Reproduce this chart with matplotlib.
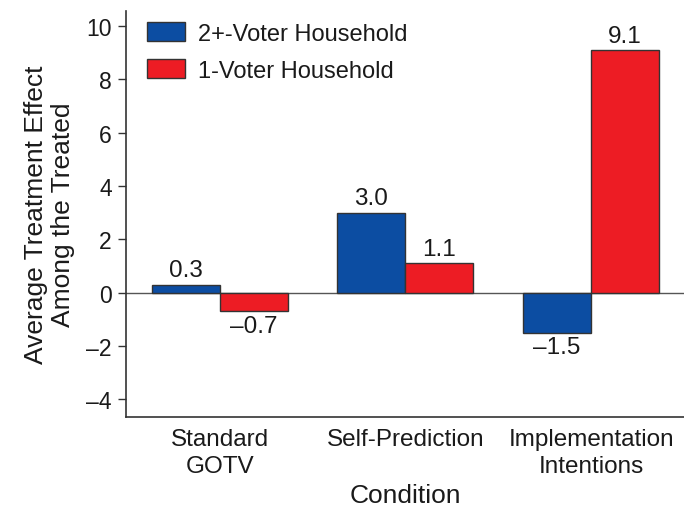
import matplotlib
matplotlib.use("Agg")
import matplotlib.pyplot as plt
import numpy as np

plt.rcParams['font.family'] = ['Liberation Sans', 'DejaVu Sans']

conditions = ["Standard\nGOTV", "Self-Prediction", "Implementation\nIntentions"]
series_names = ["2+-Voter Household", "1-Voter Household"]
multi_voter = [0.3, 3.0, -1.5]
single_voter = [-0.7, 1.1, 9.1]
colors = ["#0c4da2", "#ed1c24"]
yticks = [-4, -2, 0, 2, 4, 6, 8, 10]

fig = plt.figure(figsize=(6.84, 5.10), dpi=100)
ax = fig.add_axes([0.184, 0.180, 0.816, 0.796])

x = np.arange(len(conditions))
w = 0.366
ax.axhline(0, color="#555555", lw=1.0, zorder=1)
for i, (vals, c, name) in enumerate(zip([multi_voter, single_voter], colors, series_names)):
    ax.bar(x + (i - 0.5) * w, vals, w, color=c, edgecolor="#333333", lw=1.0, label=name, zorder=2)
    for xi, v in zip(x + (i - 0.5) * w, vals):
        txt = f"{v:.1f}".replace("-", "\u2013")
        if v >= 0:
            ax.text(xi, v + 0.12, txt, ha="center", va="bottom", fontsize=17.5, color="#1a1a1a")
        else:
            ax.text(xi, v - 0.12, txt, ha="center", va="top", fontsize=17.5, color="#1a1a1a")

ax.set_xlim(-0.505, 2.5)
ax.set_ylim(-4.67, 10.55)
ax.set_yticks(yticks)
ax.set_yticklabels([str(t).replace("-", "\u2013") for t in yticks], fontsize=16.5, color="#1a1a1a")
ax.set_xticks(x)
ax.set_xticklabels(conditions, fontsize=17.5, color="#1a1a1a", linespacing=1.3)
ax.tick_params(axis="x", length=0, pad=8)
ax.tick_params(axis="y", length=6, width=1.0, color="#333333", pad=4)
for s in ["top", "right"]:
    ax.spines[s].set_visible(False)
for s in ["left", "bottom"]:
    ax.spines[s].set_color("#333333")
    ax.spines[s].set_linewidth(1.2)

ax.set_xlabel("Condition", fontsize=19, color="#1a1a1a", labelpad=4)
ax.set_ylabel("Average Treatment Effect\nAmong the Treated", fontsize=19, color="#1a1a1a", labelpad=8)

leg = ax.legend(loc="upper left", bbox_to_anchor=(0.0, 1.025), frameon=False, fontsize=17,
                handlelength=1.6, handleheight=0.85, handletextpad=0.55, labelspacing=0.6)
for t in leg.get_texts():
    t.set_color("#1a1a1a")

fig.savefig("out.png", dpi=100)
